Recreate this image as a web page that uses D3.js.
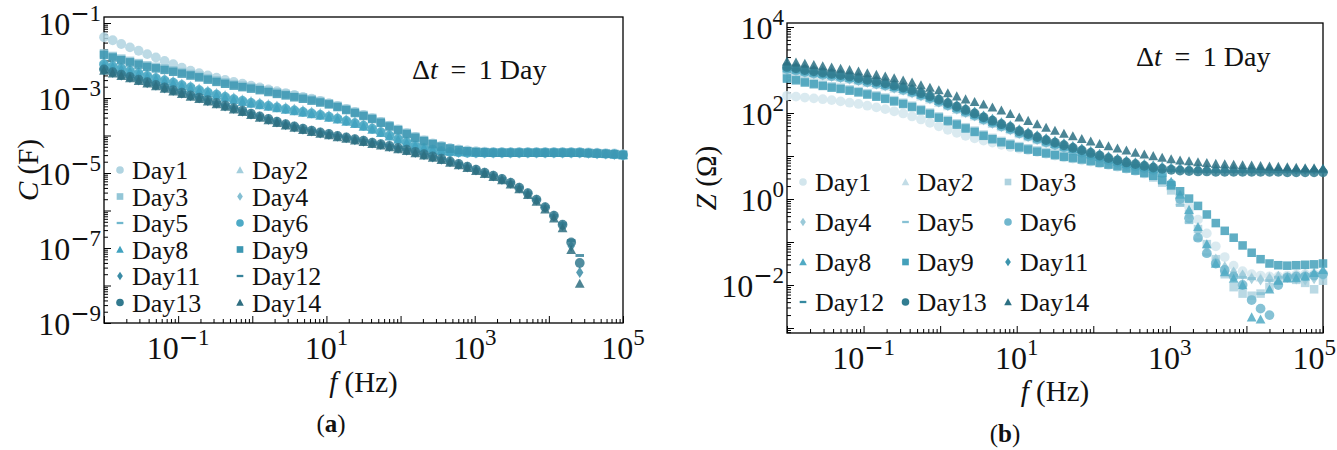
<!DOCTYPE html>
<html>
<head>
<meta charset="utf-8">
<script src="https://cdn.jsdelivr.net/npm/d3@7"></script>
<style>
  body { margin: 0; background: #fff; }
  svg text { font-family: "Liberation Serif", "Times New Roman", serif; fill: #111; }
</style>
</head>
<body>
<svg width="1337" height="450"></svg>
<script>

// frequency grid (Hz), shared by both panels
var freq = [0.01, 0.0131, 0.0171, 0.0224, 0.0293, 0.0383, 0.0501, 0.0656, 0.0858, 0.112,
  0.147, 0.192, 0.251, 0.329, 0.430, 0.562, 0.736, 0.962, 1.26, 1.65,
  2.15, 2.82, 3.69, 4.82, 6.31, 8.25, 10.8, 14.1, 18.5, 24.2,
  31.6, 41.4, 54.1, 70.8, 92.6, 121, 158, 207, 271, 355,
  464, 607, 794, 1040, 1360, 1780, 2330, 3040, 3980, 5210,
  6810, 8910, 11700, 15300, 20000, 26100, 34200, 44700, 58500, 76500,
  100000];

var days = ["Day1", "Day2", "Day3", "Day4", "Day5", "Day6", "Day8", "Day9", "Day11", "Day12", "Day13", "Day14"];
var shapes = ["circle", "triangle", "square", "diamond", "dash", "circle", "triangle", "square", "diamond", "dash", "circle", "triangle"];

// (a) capacitance, log10 C in F
var logC_day1 = [-1.38,-1.46,-1.56,-1.65,-1.74,-1.83,-1.92,-2.01,-2.10,-2.19,
  -2.27,-2.34,-2.40,-2.46,-2.52,-2.57,-2.62,-2.67,-2.72,-2.77,
  -2.82,-2.87,-2.92,-2.97,-3.02,-3.08,-3.14,-3.21,-3.29,-3.37,
  -3.45,-3.54,-3.64,-3.74,-3.84,-3.94,-4.04,-4.13,-4.21,-4.28,
  -4.33,-4.37,-4.40,-4.42,-4.43,-4.44,-4.44,-4.44,-4.44,-4.44,
  -4.44,-4.44,-4.44,-4.44,-4.44,-4.44,-4.45,-4.46,-4.47,-4.48,
  -4.50];
var logC_day2 = [-2.05,-2.10,-2.16,-2.23,-2.29,-2.36,-2.42,-2.48,-2.54,-2.61,
  -2.67,-2.74,-2.80,-2.86,-2.92,-2.98,-3.03,-3.08,-3.12,-3.16,
  -3.20,-3.24,-3.28,-3.32,-3.36,-3.40,-3.45,-3.50,-3.56,-3.62,
  -3.69,-3.77,-3.86,-3.95,-4.04,-4.13,-4.22,-4.29,-4.35,-4.39,
  -4.41,-4.43,-4.44,-4.45,-4.45,-4.45,-4.45,-4.45,-4.45,-4.45,
  -4.45,-4.45,-4.45,-4.45,-4.45,-4.45,-4.46,-4.47,-4.48,-4.49,
  -4.51];
var logC_day3 = [-1.81,-1.88,-1.95,-2.01,-2.07,-2.13,-2.17,-2.21,-2.26,-2.31,
  -2.36,-2.41,-2.47,-2.53,-2.58,-2.63,-2.67,-2.71,-2.75,-2.80,
  -2.85,-2.89,-2.94,-2.98,-3.03,-3.08,-3.14,-3.21,-3.29,-3.37,
  -3.45,-3.53,-3.63,-3.73,-3.83,-3.93,-4.03,-4.12,-4.21,-4.28,
  -4.34,-4.38,-4.41,-4.43,-4.44,-4.45,-4.45,-4.45,-4.45,-4.45,
  -4.45,-4.45,-4.45,-4.45,-4.45,-4.45,-4.46,-4.47,-4.48,-4.49,
  -4.51];
var logC_day4 = [-2.08,-2.13,-2.19,-2.26,-2.32,-2.39,-2.45,-2.51,-2.57,-2.64,
  -2.70,-2.77,-2.83,-2.89,-2.95,-3.01,-3.06,-3.11,-3.15,-3.19,
  -3.23,-3.27,-3.31,-3.35,-3.39,-3.43,-3.48,-3.53,-3.59,-3.65,
  -3.72,-3.80,-3.89,-3.98,-4.07,-4.16,-4.25,-4.32,-4.37,-4.41,
  -4.43,-4.45,-4.46,-4.47,-4.47,-4.47,-4.47,-4.47,-4.47,-4.47,
  -4.47,-4.47,-4.47,-4.47,-4.47,-4.47,-4.48,-4.49,-4.50,-4.51,
  -4.53];
var logC_day5 = [-2.07,-2.12,-2.18,-2.25,-2.31,-2.38,-2.44,-2.50,-2.56,-2.63,
  -2.69,-2.76,-2.82,-2.88,-2.94,-3.00,-3.05,-3.10,-3.14,-3.18,
  -3.22,-3.26,-3.30,-3.34,-3.38,-3.42,-3.47,-3.52,-3.58,-3.64,
  -3.71,-3.79,-3.88,-3.97,-4.06,-4.15,-4.24,-4.31,-4.36,-4.40,
  -4.42,-4.44,-4.45,-4.46,-4.46,-4.46,-4.46,-4.46,-4.46,-4.46,
  -4.46,-4.46,-4.46,-4.46,-4.46,-4.46,-4.47,-4.48,-4.49,-4.50,
  -4.52];
var logC_day6 = [-2.10,-2.15,-2.21,-2.28,-2.34,-2.41,-2.47,-2.53,-2.59,-2.66,
  -2.72,-2.79,-2.85,-2.91,-2.97,-3.03,-3.08,-3.13,-3.17,-3.21,
  -3.25,-3.29,-3.33,-3.37,-3.41,-3.45,-3.50,-3.55,-3.61,-3.67,
  -3.74,-3.82,-3.91,-4.00,-4.09,-4.18,-4.27,-4.34,-4.38,-4.42,
  -4.44,-4.45,-4.46,-4.46,-4.46,-4.46,-4.46,-4.46,-4.46,-4.46,
  -4.46,-4.46,-4.46,-4.46,-4.46,-4.46,-4.47,-4.48,-4.49,-4.50,
  -4.52];
var logC_day8 = [-2.12,-2.17,-2.23,-2.30,-2.36,-2.43,-2.49,-2.55,-2.61,-2.68,
  -2.74,-2.81,-2.87,-2.93,-2.99,-3.05,-3.10,-3.15,-3.19,-3.23,
  -3.27,-3.31,-3.35,-3.39,-3.43,-3.47,-3.52,-3.57,-3.63,-3.69,
  -3.76,-3.84,-3.93,-4.02,-4.11,-4.19,-4.27,-4.33,-4.38,-4.41,
  -4.43,-4.44,-4.45,-4.46,-4.46,-4.46,-4.46,-4.46,-4.46,-4.46,
  -4.46,-4.46,-4.46,-4.46,-4.46,-4.46,-4.47,-4.48,-4.49,-4.50,
  -4.52];
var logC_day9 = [-1.85,-1.92,-1.99,-2.05,-2.11,-2.17,-2.21,-2.25,-2.30,-2.35,
  -2.40,-2.45,-2.51,-2.57,-2.62,-2.67,-2.71,-2.75,-2.79,-2.84,
  -2.89,-2.93,-2.98,-3.02,-3.07,-3.12,-3.17,-3.24,-3.32,-3.40,
  -3.48,-3.56,-3.66,-3.76,-3.86,-3.96,-4.06,-4.15,-4.23,-4.30,
  -4.35,-4.39,-4.42,-4.44,-4.45,-4.46,-4.46,-4.46,-4.46,-4.46,
  -4.46,-4.46,-4.46,-4.46,-4.46,-4.46,-4.47,-4.48,-4.49,-4.50,
  -4.52];
var logC_day11 = [-2.25,-2.32,-2.39,-2.45,-2.52,-2.59,-2.66,-2.73,-2.80,-2.87,
  -2.94,-3.00,-3.07,-3.14,-3.21,-3.28,-3.35,-3.43,-3.50,-3.57,
  -3.64,-3.71,-3.77,-3.83,-3.88,-3.93,-3.97,-4.02,-4.06,-4.11,
  -4.15,-4.20,-4.24,-4.29,-4.34,-4.39,-4.45,-4.51,-4.57,-4.63,
  -4.70,-4.77,-4.84,-4.92,-5.00,-5.08,-5.17,-5.27,-5.40,-5.55,
  -5.72,-5.92,-6.15,-6.40,-6.95,-7.65,null,null,null,null,
  null];
var logC_day12 = [-2.23,-2.30,-2.37,-2.43,-2.50,-2.57,-2.64,-2.71,-2.78,-2.85,
  -2.92,-2.98,-3.05,-3.12,-3.19,-3.26,-3.33,-3.41,-3.48,-3.55,
  -3.62,-3.69,-3.75,-3.81,-3.86,-3.91,-3.95,-4.00,-4.04,-4.09,
  -4.13,-4.18,-4.22,-4.27,-4.32,-4.37,-4.43,-4.49,-4.55,-4.61,
  -4.68,-4.75,-4.82,-4.90,-4.98,-5.06,-5.15,-5.25,-5.38,-5.53,
  -5.70,-5.90,-6.13,-6.35,-6.80,-7.20,null,null,null,null,
  null];
var logC_day13 = [-2.24,-2.31,-2.38,-2.44,-2.51,-2.58,-2.65,-2.72,-2.79,-2.86,
  -2.93,-2.99,-3.06,-3.13,-3.20,-3.27,-3.34,-3.42,-3.49,-3.56,
  -3.63,-3.70,-3.76,-3.82,-3.87,-3.92,-3.96,-4.01,-4.05,-4.10,
  -4.14,-4.19,-4.23,-4.28,-4.33,-4.38,-4.44,-4.50,-4.56,-4.62,
  -4.69,-4.76,-4.83,-4.91,-4.99,-5.07,-5.16,-5.26,-5.39,-5.54,
  -5.71,-5.91,-6.14,-6.38,-6.85,-7.40,null,null,null,null,
  null];
var logC_day14 = [-2.27,-2.34,-2.41,-2.47,-2.54,-2.61,-2.68,-2.75,-2.82,-2.89,
  -2.96,-3.02,-3.09,-3.16,-3.23,-3.30,-3.37,-3.45,-3.52,-3.59,
  -3.66,-3.73,-3.79,-3.85,-3.90,-3.95,-3.99,-4.04,-4.08,-4.13,
  -4.17,-4.22,-4.26,-4.31,-4.36,-4.41,-4.47,-4.53,-4.59,-4.65,
  -4.72,-4.79,-4.86,-4.94,-5.02,-5.10,-5.19,-5.30,-5.43,-5.58,
  -5.76,-5.97,-6.21,-6.47,-7.05,-7.95,null,null,null,null,
  null];

// (b) impedance, log10 Z in ohm
var logZ_day1 = [2.40,2.38,2.36,2.34,2.32,2.30,2.27,2.24,2.21,2.17,
  2.13,2.09,2.04,1.99,1.92,1.85,1.77,1.69,1.61,1.54,
  1.47,1.41,1.36,1.31,1.26,1.21,1.17,1.13,1.09,1.05,
  1.01,0.97,0.94,0.90,0.87,0.83,0.79,0.75,0.70,0.65,
  0.59,0.52,0.42,0.28,0.08,-0.18,-0.48,-0.80,-1.10,-1.35,
  -1.55,-1.68,-1.75,-1.78,-1.80,-1.80,-1.78,-1.76,-1.75,-1.74,
  -1.72];
var logZ_day2 = [3.00,2.97,2.93,2.90,2.87,2.84,2.81,2.78,2.74,2.70,
  2.66,2.62,2.57,2.52,2.46,2.39,2.32,2.24,2.16,2.08,
  2.00,1.92,1.83,1.75,1.67,1.60,1.51,1.44,1.37,1.30,
  1.24,1.18,1.12,1.06,1.00,0.94,0.88,0.83,0.78,0.74,
  0.70,0.66,0.58,0.30,-0.05,-0.45,-0.85,-1.20,-1.45,-1.60,
  -1.70,-1.76,-1.80,-1.82,-1.80,-1.78,-1.80,-1.75,-1.72,-1.70,
  -1.68];
var logZ_day3 = [2.83,2.79,2.74,2.70,2.66,2.62,2.59,2.55,2.51,2.46,
  2.41,2.36,2.30,2.24,2.17,2.09,2.01,1.92,1.84,1.76,
  1.67,1.59,1.50,1.42,1.35,1.29,1.23,1.18,1.13,1.09,
  1.05,1.01,0.98,0.95,0.91,0.87,0.83,0.79,0.74,0.68,
  0.62,0.50,0.38,0.20,-0.05,-0.35,-0.70,-1.05,-1.40,-1.75,
  -2.05,-2.20,-2.25,-2.20,-2.05,-1.90,-1.85,-1.88,-1.95,-2.10,
  -1.90];
var logZ_day4 = [3.01,2.98,2.94,2.91,2.88,2.85,2.82,2.79,2.75,2.71,
  2.67,2.63,2.58,2.53,2.47,2.40,2.33,2.25,2.17,2.09,
  2.01,1.93,1.84,1.76,1.68,1.61,1.52,1.45,1.38,1.31,
  1.25,1.19,1.13,1.07,1.01,0.95,0.89,0.84,0.79,0.75,
  0.71,0.67,0.60,0.38,0.05,-0.35,-0.75,-1.10,-1.40,-1.58,
  -1.70,-1.77,-1.85,-1.88,-1.85,-1.80,-1.82,-1.86,-1.88,-1.85,
  -1.80];
var logZ_day5 = [2.99,2.96,2.92,2.89,2.86,2.83,2.80,2.77,2.73,2.69,
  2.65,2.61,2.56,2.51,2.45,2.38,2.31,2.23,2.15,2.07,
  1.99,1.91,1.82,1.74,1.66,1.59,1.50,1.43,1.36,1.29,
  1.23,1.17,1.11,1.05,0.99,0.93,0.87,0.82,0.77,0.73,
  0.69,0.65,0.55,0.25,-0.15,-0.55,-0.95,-1.30,-1.55,-1.70,
  -1.78,-1.82,-1.85,-2.20,-1.90,-1.82,-1.80,-1.78,-1.76,-1.74,
  -1.72];
var logZ_day6 = [3.02,2.99,2.95,2.92,2.89,2.86,2.83,2.80,2.76,2.72,
  2.68,2.64,2.59,2.54,2.48,2.41,2.34,2.26,2.18,2.10,
  2.02,1.94,1.85,1.77,1.69,1.62,1.53,1.46,1.39,1.32,
  1.26,1.20,1.14,1.08,1.02,0.96,0.90,0.85,0.80,0.76,
  0.72,0.68,0.60,0.35,0.00,-0.45,-0.90,-1.26,-1.50,-1.65,
  -1.80,-2.00,-2.35,-2.55,-2.70,-2.00,-1.82,-1.80,-1.80,-1.78,
  -1.75];
var logZ_day8 = [3.04,3.01,2.97,2.94,2.91,2.88,2.85,2.82,2.78,2.74,
  2.70,2.66,2.61,2.56,2.50,2.43,2.36,2.28,2.20,2.12,
  2.04,1.96,1.87,1.79,1.71,1.64,1.55,1.48,1.41,1.34,
  1.28,1.22,1.16,1.10,1.04,0.98,0.92,0.87,0.82,0.78,
  0.74,0.70,0.62,0.40,0.10,-0.25,-0.65,-1.05,-1.50,-1.70,
  -1.85,-2.00,-2.75,-2.80,-2.10,-1.90,-1.84,-1.84,-1.80,-1.72,
  -1.65];
var logZ_day9 = [2.80,2.76,2.71,2.67,2.63,2.59,2.56,2.52,2.48,2.43,
  2.38,2.33,2.27,2.21,2.14,2.06,1.98,1.89,1.81,1.73,
  1.64,1.56,1.47,1.39,1.32,1.26,1.20,1.15,1.10,1.06,
  1.02,0.98,0.95,0.92,0.88,0.84,0.80,0.76,0.71,0.66,
  0.60,0.54,0.44,0.32,0.18,0.01,-0.16,-0.36,-0.56,-0.74,
  -0.90,-1.08,-1.25,-1.40,-1.50,-1.54,-1.55,-1.54,-1.53,-1.52,
  -1.50];
var logZ_day11 = [3.10,3.07,3.03,3.00,2.97,2.94,2.91,2.88,2.84,2.80,
  2.76,2.72,2.67,2.62,2.56,2.49,2.42,2.34,2.26,2.18,
  2.10,2.02,1.93,1.85,1.77,1.70,1.61,1.54,1.47,1.40,
  1.34,1.28,1.22,1.16,1.10,1.04,0.98,0.93,0.88,0.84,
  0.80,0.77,0.74,0.72,0.71,0.70,0.70,0.69,0.69,0.69,
  0.69,0.69,0.69,0.69,0.69,0.69,0.69,0.68,0.68,0.68,
  0.68];
var logZ_day12 = [3.04,3.01,2.97,2.94,2.91,2.88,2.85,2.82,2.78,2.74,
  2.70,2.66,2.61,2.56,2.50,2.43,2.36,2.28,2.20,2.12,
  2.04,1.96,1.87,1.79,1.71,1.64,1.55,1.48,1.41,1.34,
  1.28,1.22,1.16,1.10,1.04,0.98,0.92,0.87,0.82,0.78,
  0.74,0.70,0.67,0.66,0.65,0.65,0.64,0.64,0.64,0.64,
  0.64,0.64,0.64,0.64,0.64,0.64,0.64,0.63,0.63,0.63,
  0.63];
var logZ_day13 = [3.07,3.04,3.00,2.97,2.94,2.91,2.88,2.85,2.81,2.77,
  2.73,2.69,2.64,2.59,2.53,2.46,2.39,2.31,2.23,2.15,
  2.07,1.99,1.90,1.82,1.74,1.67,1.58,1.51,1.44,1.37,
  1.31,1.25,1.19,1.13,1.07,1.01,0.95,0.90,0.85,0.81,
  0.77,0.73,0.70,0.68,0.66,0.65,0.64,0.64,0.63,0.63,
  0.63,0.63,0.63,0.63,0.63,0.63,0.62,0.62,0.62,0.62,
  0.62];
var logZ_day14 = [3.20,3.18,3.15,3.12,3.09,3.06,3.03,3.00,2.97,2.93,
  2.89,2.85,2.81,2.76,2.71,2.65,2.59,2.53,2.46,2.39,
  2.32,2.26,2.20,2.13,2.06,1.98,1.90,1.82,1.74,1.66,
  1.59,1.52,1.46,1.40,1.34,1.28,1.23,1.18,1.13,1.08,
  1.04,1.00,0.96,0.93,0.90,0.88,0.86,0.84,0.82,0.81,
  0.80,0.79,0.78,0.77,0.76,0.75,0.74,0.73,0.72,0.72,
  0.71];

var colorsC = ["#b0d4e1", "#a3cedc", "#93c6d7", "#84bfd3", "#70b7cd", "#4eaac6",
               "#41a2bf", "#3c97b2", "#3a8ba5", "#36829a", "#32798e", "#2e6e80"];
var colorsZ = ["#d3e6ed", "#c2dce6", "#aed2df", "#9bcad9", "#87c1d4", "#71b7ce",
               "#50aac4", "#44a0ba", "#3b94ad", "#3689a0", "#317d91", "#2c7083"];

var xTickExps = [-1, 1, 3, 5];
var cTickExps = [-9, -7, -5, -3, -1];
var zTickExps = [-2, 0, 2, 4];

var seriesC = [logC_day1, logC_day2, logC_day3, logC_day4, logC_day5, logC_day6,
               logC_day8, logC_day9, logC_day11, logC_day12, logC_day13, logC_day14];
var seriesZ = [logZ_day1, logZ_day2, logZ_day3, logZ_day4, logZ_day5, logZ_day6,
               logZ_day8, logZ_day9, logZ_day11, logZ_day12, logZ_day13, logZ_day14];

var svg = d3.select("svg");

var markerPath = function(shape, s)
{
  if (shape == "circle") return d3.symbol(d3.symbolCircle, Math.PI * 16 * s * s)();
  if (shape == "triangle") return "M0," + (-4 * s) + "L" + (4 * s) + "," + (3.4 * s) + "L" + (-4 * s) + "," + (3.4 * s) + "Z";
  if (shape == "square") return "M" + (-3.5 * s) + "," + (-3.5 * s) + "h" + (7 * s) + "v" + (7 * s) + "h" + (-7 * s) + "Z";
  if (shape == "diamond") return "M0," + (-4.6 * s) + "L" + (3 * s) + ",0L0," + (4.6 * s) + "L" + (-3 * s) + ",0Z";
  return "M" + (-3.5 * s) + "," + (-1.2 * s) + "h" + (7 * s) + "v" + (2.4 * s) + "h" + (-7 * s) + "Z";
}

var logTicks = function(lo, hi)
{
  var major = [], minor = [];
  for (var e = Math.floor(Math.log10(lo)); e <= Math.ceil(Math.log10(hi)); e++)
  {
    for (var m = 1; m < 10; m++)
    {
      var v = m * Math.pow(10, e);
      if (v < lo * 0.999 || v > hi * 1.001) continue;
      if (m == 1) major.push(v); else minor.push(v);
    }
  }
  return {major: major, minor: minor};
}

var powLabel = function(t, e)
{
  t.append("tspan").text("10");
  var sup = t.append("tspan").attr("font-size", 23).attr("dy", -14);
  if (e < 0) sup.append("tspan").attr("font-family", "DejaVu Sans").text("\u2212");
  sup.append("tspan").text(Math.abs(e));
}

var drawPanel = function(p)
{
  var x = d3.scaleLog().domain([freq[0], freq[freq.length - 1]]).range([p.left, p.right]);
  var y = d3.scaleLog().domain(p.yDomain).range(p.yRange);
  var g = svg.append("g");

  var xt = logTicks(x.invert(p.left), x.invert(p.right));
  var yt = logTicks(y.invert(p.bottom), y.invert(p.top));

  var addAxis = function(axis, vals, size, tr)
  {
    g.append("g")
      .attr("transform", tr)
      .call(axis.tickValues(vals).tickSize(size).tickFormat(""))
      .call(function(a) { a.select(".domain").remove(); })
      .selectAll("line").attr("stroke", "#000").attr("stroke-width", 1);
  }
  addAxis(d3.axisBottom(x), xt.major, -7, "translate(0," + p.bottom + ")");
  addAxis(d3.axisBottom(x), xt.minor, -4, "translate(0," + p.bottom + ")");
  addAxis(d3.axisLeft(y), yt.major, -7, "translate(" + p.left + ",0)");
  addAxis(d3.axisLeft(y), yt.minor, -4, "translate(" + p.left + ",0)");

  g.append("rect")
    .attr("x", p.left).attr("y", p.top)
    .attr("width", p.right - p.left).attr("height", p.bottom - p.top)
    .attr("fill", "none").attr("stroke", "#000").attr("stroke-width", 1.3);

  // tick labels
  p.xExps.forEach(function(e)
  {
    var t = g.append("text")
      .attr("x", x(Math.pow(10, e))).attr("y", p.bottom + 36)
      .attr("text-anchor", "middle").attr("font-size", 32);
    powLabel(t, e);
    var b = t.node().getBBox();
    if (b.x + b.width > 1336) t.attr("x", +t.attr("x") - (b.x + b.width - 1336));
  });
  p.yExps.forEach(function(e)
  {
    var t = g.append("text")
      .attr("x", p.left - 3).attr("y", y(Math.pow(10, e)) + 12)
      .attr("text-anchor", "end").attr("font-size", 32);
    powLabel(t, e);
  });

  // markers
  p.series.forEach(function(arr, i)
  {
    var pts = freq.map(function(f, k) { return {f: f, v: arr[k]}; })
      .filter(function(d) { return d.v != null; });
    g.append("g")
      .selectAll("path")
      .data(pts)
      .join("path")
      .attr("d", markerPath(shapes[i], 1.22))
      .attr("transform", function(d) { return "translate(" + x(d.f) + "," + y(Math.pow(10, d.v)) + ")"; })
      .attr("fill", p.colors[i])
      .attr("fill-opacity", 0.85);
  });

  // legend
  var lg = g.append("g");
  days.forEach(function(name, i)
  {
    var cx = p.legend.x + (i % p.legend.cols) * p.legend.dx;
    var cy = p.legend.y + Math.floor(i / p.legend.cols) * p.legend.dy;
    lg.append("path")
      .attr("d", markerPath(shapes[i], 0.95))
      .attr("transform", "translate(" + cx + "," + cy + ")")
      .attr("fill", p.colors[i]);
    lg.append("text")
      .attr("x", cx + 12).attr("y", cy + 9)
      .attr("font-size", 26)
      .text(name);
  });

  // axis titles
  var yl = g.append("text")
    .attr("transform", "translate(" + p.yTitleX + "," + p.yTitleY + ") rotate(-90)")
    .attr("text-anchor", "middle").attr("font-size", 29);
  yl.append("tspan").attr("font-style", "italic").text(p.yTitle[0]);
  yl.append("tspan").text(p.yTitle[1]);

  var xl = g.append("text")
    .attr("x", (p.left + p.right) / 2).attr("y", p.xTitleY)
    .attr("text-anchor", "middle").attr("font-size", 29);
  xl.append("tspan").attr("font-style", "italic").text("f");
  xl.append("tspan").text(" (Hz)");

  var note = g.append("text")
    .attr("x", p.note.x).attr("y", p.note.y)
    .attr("font-size", 28);
  note.append("tspan").text("\u0394");
  note.append("tspan").attr("font-style", "italic").text("t");
  note.append("tspan").text(" \u2009=\u2009 1 Day");

  var tag = g.append("text")
    .attr("x", p.tag.x).attr("y", p.tag.y)
    .attr("text-anchor", "middle").attr("font-size", 25);
  tag.append("tspan").text("(");
  tag.append("tspan").attr("font-weight", "bold").text(p.tag.t);
  tag.append("tspan").text(")");
}

drawPanel({
  left: 104, right: 623, top: 17, bottom: 323,
  yDomain: [1e-9, 1e-1], yRange: [323, 23],
  series: seriesC, colors: colorsC,
  xExps: xTickExps, yExps: cTickExps,
  yTitle: ["C", " (F)"], yTitleX: 38, yTitleY: 170,
  xTitleY: 392,
  note: {x: 412, y: 79},
  tag: {x: 331, y: 432, t: "a"},
  legend: {x: 120, y: 170, dx: 120, dy: 26.5, cols: 2}
});

drawPanel({
  left: 787, right: 1323, top: 23, bottom: 333,
  yDomain: [1e-2, 1e4], yRange: [285, 27],
  series: seriesZ, colors: colorsZ,
  xExps: xTickExps, yExps: zTickExps,
  yTitle: ["Z", " (\u03A9)"], yTitleX: 716, yTitleY: 178,
  xTitleY: 401,
  note: {x: 1136, y: 66},
  tag: {x: 1005, y: 442, t: "b"},
  legend: {x: 803, y: 182, dx: 102.5, dy: 40, cols: 3}
});

</script>
</body>
</html>
